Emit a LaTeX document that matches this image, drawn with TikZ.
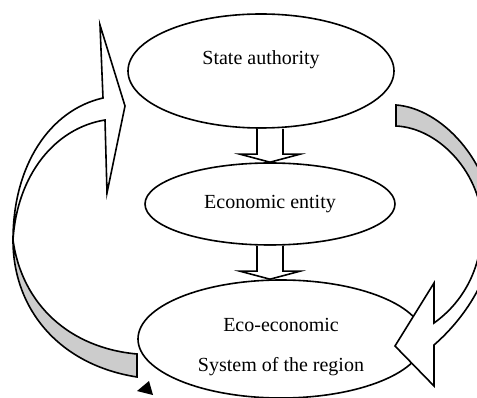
\documentclass[tikz,border=0pt]{standalone}
\usepackage{fontspec}
\setmainfont{Liberation Serif}
\usetikzlibrary{positioning,calc,shapes.geometric}

\begin{document}
\begin{tikzpicture}[
	x=1pt, y=-1pt,
	line width=1.6pt,
	bubble/.style={ellipse, draw, fill=white, inner sep=0pt},
	blockarrow/.style={draw, fill=white, line join=miter},
	ribbon back/.style={draw, fill=black!20},
	ribbon front/.style={draw, fill=white},
	every node/.style={font=\fontsize{20}{24}\selectfont}
	]
	\useasboundingbox (0,0) rectangle (477,398);
	\clip (0,0) rectangle (477,398);
	% ellipses
	\node[bubble, minimum width=266pt, minimum height=114pt,
		label={[yshift=11pt]center:State authority}] (state) at (261,71) {};
	\node[bubble, minimum width=250pt, minimum height=82pt] (entity) at (270,204)
	{Economic entity};
	\node[bubble, minimum width=286pt, minimum height=118pt,
		label={[yshift=-8pt, align=center]center:{Eco-economic\\[16pt]System of the region}}]
		(region) at (281,339) {};
	% block arrows
	\foreach \a/\b in {state/entity, entity/region} {
		\draw[blockarrow] let \p1=(entity.center), \p2=(\a.south), \p3=(\b.north) in
		(\x1-13pt,\y2) -- (\x1-13pt,\y3+8pt) -- (\x1-30pt,\y3+8pt) -- (\x1,\y3)
		-- (\x1+30pt,\y3+8pt) -- (\x1+13pt,\y3+8pt) -- (\x1+13pt,\y2);
	}
	% right curved arrow
	\draw[ribbon back] (396,105) .. controls (440,108) and (492,160) .. (494,228)
		-- (482,225) .. controls (482,175) and (440,128) .. (396,126) -- cycle;
	\draw[ribbon front] (494,228) .. controls (494,275) and (465,318) .. (434,345)
		-- (434,386) -- (395,346) -- (434,283) -- (434,323)
		.. controls (462,303) and (482,270) .. (482,225);
	% left curved arrow
	\draw[ribbon back] (137,354) .. controls (70,348) and (22,305) .. (13,240)
		.. controls (13,310) and (60,365) .. (137,377) -- cycle;
	\draw[ribbon front] (13,240) .. controls (13,165) and (50,110) .. (103,98)
		-- (100,25) -- (125,106) -- (107,193) -- (105,120)
		.. controls (55,128) and (17,175) .. (13,240);
	\fill (137,391) -- (149,381) -- (153,395) -- cycle;
\end{tikzpicture}
\end{document}
